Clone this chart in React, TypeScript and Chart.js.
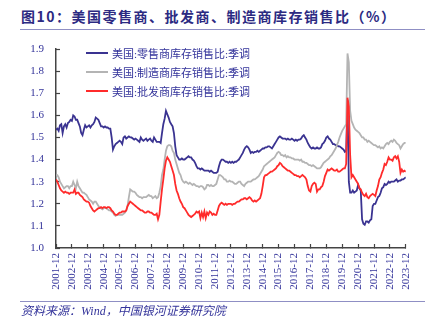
import React, { useEffect, useRef } from "react";
import { Chart, registerables } from "chart.js";

Chart.register(...registerables);

// Monthly data, first point 2001-12, last point 2023-12
const START_YEAR = 2001;
const START_MONTH = 12;

const SERIES_NAMES = [
  "美国:零售商库存销售比:季调",
  "美国:制造商库存销售比:季调",
  "美国:批发商库存销售比:季调",
];

const retail = [
  1.535,
  1.54, 1.53, 1.555, 1.56, 1.52, 1.55, 1.56, 1.545, 1.565, 1.57, 1.58, 1.575,
  1.60, 1.595, 1.58, 1.58, 1.565, 1.55, 1.52, 1.51, 1.535, 1.555, 1.545, 1.55,
  1.555, 1.545, 1.555, 1.56, 1.57, 1.59, 1.585, 1.58, 1.565, 1.55, 1.55, 1.545,
  1.55, 1.545, 1.545, 1.54, 1.54, 1.50, 1.445, 1.46, 1.47, 1.475, 1.48, 1.485,
  1.48, 1.47, 1.50, 1.505, 1.495, 1.50, 1.505, 1.50, 1.50, 1.495, 1.49, 1.495,
  1.49, 1.485, 1.48, 1.50, 1.49, 1.485, 1.49, 1.495, 1.485, 1.49, 1.495, 1.485,
  1.48, 1.50, 1.49, 1.48, 1.48, 1.48, 1.475, 1.52, 1.56, 1.585, 1.62, 1.605,
  1.59, 1.57, 1.56, 1.55, 1.52, 1.46, 1.42, 1.41, 1.40, 1.40, 1.405, 1.40,
  1.40, 1.405, 1.41, 1.415, 1.41, 1.41, 1.40, 1.395, 1.385, 1.37, 1.36, 1.36,
  1.355, 1.36, 1.355, 1.35, 1.35, 1.35, 1.35, 1.345, 1.35, 1.345, 1.34, 1.34,
  1.34, 1.345, 1.37, 1.39, 1.40, 1.40, 1.395, 1.39, 1.39, 1.385, 1.39, 1.385,
  1.39, 1.385, 1.39, 1.39, 1.395, 1.40, 1.41, 1.42, 1.43, 1.445, 1.455, 1.46,
  1.455, 1.445, 1.43, 1.435, 1.43, 1.435, 1.435, 1.44, 1.435, 1.44, 1.445, 1.45,
  1.45, 1.455, 1.455, 1.46, 1.46, 1.455, 1.45, 1.46, 1.47, 1.48, 1.49, 1.50,
  1.505, 1.50, 1.495, 1.495, 1.495, 1.49, 1.495, 1.49, 1.49, 1.495, 1.49, 1.485,
  1.49, 1.485, 1.49, 1.49, 1.495, 1.505, 1.51, 1.50, 1.49, 1.475, 1.465, 1.455,
  1.45, 1.455, 1.45, 1.45, 1.455, 1.45, 1.45, 1.455, 1.47, 1.475, 1.485, 1.50,
  1.505, 1.495, 1.49, 1.48, 1.47, 1.47, 1.465, 1.465, 1.46, 1.46, 1.455, 1.45,
  1.445, 1.435, 1.44, 1.67, 1.30, 1.25, 1.25, 1.26, 1.25, 1.255, 1.26, 1.285,
  1.27, 1.26, 1.13, 1.11, 1.105, 1.12, 1.12, 1.115, 1.125, 1.13, 1.19, 1.20,
  1.20, 1.215, 1.23, 1.235, 1.25, 1.27, 1.275, 1.29, 1.285, 1.29, 1.30, 1.295,
  1.30, 1.30, 1.30, 1.305, 1.31, 1.30, 1.305, 1.305, 1.31, 1.31, 1.315, 1.32,
];

const manufacturing = [
  1.33,
  1.33, 1.32, 1.30, 1.29, 1.28, 1.27, 1.275, 1.28, 1.28, 1.27, 1.28, 1.28,
  1.30, 1.285, 1.27, 1.30, 1.28, 1.27, 1.26, 1.25, 1.25, 1.245, 1.24, 1.23,
  1.22, 1.215, 1.21, 1.20, 1.21, 1.21, 1.20, 1.19, 1.185, 1.18, 1.175, 1.18,
  1.18, 1.18, 1.175, 1.17, 1.17, 1.165, 1.16, 1.15, 1.145, 1.15, 1.15, 1.15,
  1.15, 1.15, 1.155, 1.16, 1.17, 1.19, 1.23, 1.265, 1.26, 1.255, 1.255, 1.25,
  1.24, 1.235, 1.23, 1.23, 1.225, 1.23, 1.23, 1.23, 1.235, 1.24, 1.235, 1.235,
  1.225, 1.23, 1.235, 1.225, 1.23, 1.25, 1.28, 1.33, 1.355, 1.40, 1.44, 1.46,
  1.465, 1.465, 1.46, 1.44, 1.43, 1.40, 1.38, 1.36, 1.34, 1.33, 1.31, 1.30,
  1.295, 1.30, 1.295, 1.29, 1.295, 1.29, 1.285, 1.29, 1.285, 1.28, 1.28, 1.275,
  1.28, 1.28, 1.275, 1.265, 1.27, 1.285, 1.285, 1.28, 1.285, 1.28, 1.28, 1.285,
  1.29, 1.31, 1.33, 1.33, 1.325, 1.32, 1.31, 1.31, 1.30, 1.30, 1.305, 1.30,
  1.30, 1.295, 1.29, 1.29, 1.295, 1.30, 1.30, 1.29, 1.285, 1.28, 1.29, 1.295,
  1.30, 1.30, 1.30, 1.305, 1.31, 1.31, 1.315, 1.32, 1.325, 1.335, 1.345, 1.355,
  1.37, 1.375, 1.38, 1.385, 1.39, 1.395, 1.40, 1.405, 1.41, 1.42, 1.43, 1.435,
  1.43, 1.42, 1.42, 1.415, 1.42, 1.41, 1.415, 1.41, 1.41, 1.405, 1.405, 1.40,
  1.40, 1.40, 1.40, 1.395, 1.40, 1.39, 1.39, 1.385, 1.385, 1.38, 1.375, 1.375,
  1.37, 1.375, 1.37, 1.365, 1.36, 1.36, 1.36, 1.365, 1.375, 1.385, 1.39, 1.395,
  1.40, 1.405, 1.415, 1.42, 1.43, 1.44, 1.45, 1.465, 1.48, 1.50, 1.515, 1.53,
  1.54, 1.55, 1.56, 1.88, 1.84, 1.62, 1.575, 1.56, 1.545, 1.535, 1.53, 1.525,
  1.52, 1.51, 1.50, 1.50, 1.49, 1.49, 1.48, 1.485, 1.48, 1.475, 1.47, 1.465,
  1.465, 1.46, 1.455, 1.46, 1.45, 1.455, 1.45, 1.46, 1.47, 1.475, 1.47, 1.48,
  1.485, 1.48, 1.49, 1.485, 1.475, 1.47, 1.465, 1.45, 1.46, 1.47, 1.475, 1.475,
];

const wholesale = [
  1.31,
  1.30, 1.285, 1.27, 1.26, 1.255, 1.25, 1.255, 1.25, 1.25, 1.245, 1.25, 1.25,
  1.25, 1.265, 1.245, 1.25, 1.25, 1.24, 1.235, 1.23, 1.22, 1.215, 1.21, 1.21,
  1.205, 1.19, 1.18, 1.17, 1.165, 1.17, 1.175, 1.18, 1.18, 1.185, 1.18, 1.185,
  1.185, 1.18, 1.185, 1.185, 1.18, 1.17, 1.165, 1.155, 1.15, 1.15, 1.155, 1.16,
  1.16, 1.165, 1.165, 1.165, 1.17, 1.19, 1.20, 1.21, 1.205, 1.20, 1.195, 1.19,
  1.185, 1.18, 1.175, 1.17, 1.17, 1.165, 1.16, 1.16, 1.165, 1.165, 1.16, 1.16,
  1.155, 1.15, 1.15, 1.155, 1.13, 1.15, 1.21, 1.265, 1.31, 1.36, 1.395, 1.41,
  1.40, 1.39, 1.37, 1.35, 1.33, 1.29, 1.26, 1.245, 1.225, 1.21, 1.20, 1.185,
  1.18, 1.17, 1.16, 1.15, 1.145, 1.14, 1.145, 1.15, 1.155, 1.165, 1.16, 1.165,
  1.135, 1.16, 1.14, 1.165, 1.135, 1.16, 1.15, 1.165, 1.16, 1.15, 1.155, 1.15,
  1.15, 1.17, 1.19, 1.20, 1.205, 1.20, 1.195, 1.20, 1.195, 1.20, 1.20, 1.20,
  1.195, 1.20, 1.20, 1.205, 1.21, 1.21, 1.215, 1.22, 1.22, 1.225, 1.225, 1.22,
  1.225, 1.23, 1.225, 1.215, 1.21, 1.215, 1.21, 1.215, 1.22, 1.225, 1.245, 1.28,
  1.32, 1.33, 1.33, 1.335, 1.34, 1.345, 1.345, 1.35, 1.355, 1.36, 1.37, 1.375,
  1.385, 1.38, 1.37, 1.365, 1.36, 1.355, 1.35, 1.35, 1.345, 1.34, 1.335, 1.33,
  1.33, 1.325, 1.325, 1.32, 1.325, 1.33, 1.325, 1.32, 1.31, 1.28, 1.26, 1.255,
  1.28, 1.29, 1.295, 1.29, 1.255, 1.265, 1.265, 1.275, 1.28, 1.30, 1.325, 1.34,
  1.355, 1.35, 1.355, 1.36, 1.355, 1.35, 1.35, 1.355, 1.345, 1.345, 1.35, 1.355,
  1.36, 1.36, 1.38, 1.68, 1.64, 1.42, 1.32, 1.33, 1.32, 1.31, 1.30, 1.29,
  1.27, 1.265, 1.25, 1.24, 1.235, 1.245, 1.23, 1.225, 1.235, 1.24, 1.245, 1.24,
  1.235, 1.26, 1.28, 1.31, 1.32, 1.34, 1.355, 1.38, 1.375, 1.39, 1.41, 1.40,
  1.40, 1.395, 1.41, 1.415, 1.405, 1.415, 1.39, 1.34, 1.355, 1.345, 1.35, 1.345,
];

const Y_MIN = 1.0;
const Y_MAX = 1.9;
const Y_STEP = 0.1;

const categories: string[] = retail.map((_, i) => {
  const t = START_YEAR * 12 + (START_MONTH - 1) + i;
  const y = Math.floor(t / 12);
  const m = (t % 12) + 1;
  return `${y}-${String(m).padStart(2, "0")}`;
});

const COLORS = ["#3A3391", "#B4B4B4", "#FF2B2B"];
const TEXT_BLUE = "#33339A";
const TITLE_COLOR = "#2C2A82";
const SERIF = '"Liberation Serif", "Noto Sans CJK SC", serif';

export default function App() {
  const ref = useRef<HTMLCanvasElement | null>(null);

  useEffect(() => {
    document.body.style.margin = "0";
    const canvas = ref.current;
    if (!canvas) return;
    const series = [retail, manufacturing, wholesale];
    const orders = [3, 2, 1];
    const chart = new Chart(canvas, {
      type: "line",
      data: {
        datasets: series.map((arr, k) => ({
          label: SERIES_NAMES[k],
          data: arr.map((v, i) => ({ x: i, y: v })),
          borderColor: COLORS[k],
          backgroundColor: COLORS[k],
          borderWidth: 1.8,
          pointRadius: 0,
          tension: 0,
          order: orders[k],
        })),
      },
      options: {
        animation: false,
        responsive: false,
        layout: { padding: { left: 0, right: 20, top: 49, bottom: 31 } },
        plugins: {
          legend: { display: false },
          tooltip: { enabled: false },
          title: { display: false },
        },
        scales: {
          x: {
            type: "linear",
            min: 0,
            max: categories.length - 1,
            afterFit: (s: any) => {
              s.height = 45;
            },
            border: { display: true, color: "#444", width: 1.5 },
            grid: {
              drawOnChartArea: false,
              drawTicks: true,
              tickLength: -4,
              tickColor: "#444",
              tickWidth: 1.2,
            },
            ticks: {
              stepSize: 12,
              autoSkip: false,
              maxRotation: 90,
              minRotation: 90,
              padding: 9,
              color: TEXT_BLUE,
              font: { family: SERIF, size: 11 },
              callback: (v: any) => categories[Math.round(Number(v))] ?? "",
            },
          },
          y: {
            min: Y_MIN,
            max: Y_MAX,
            afterFit: (s: any) => {
              s.width = 56;
            },
            border: { display: true, color: "#444", width: 1.5 },
            grid: {
              drawOnChartArea: false,
              drawTicks: true,
              tickLength: -4,
              tickColor: "#444",
              tickWidth: 1.2,
            },
            ticks: {
              stepSize: Y_STEP,
              padding: 16,
              color: TEXT_BLUE,
              font: { family: SERIF, size: 11 },
              callback: (v: any) => Number(v).toFixed(1),
            },
          },
        },
      },
    });
    return () => chart.destroy();
  }, []);

  return (
    <div
      style={{
        position: "fixed",
        left: 0,
        top: 0,
        width: 428,
        height: 324,
        background: "#fff",
        overflow: "hidden",
      }}
    >
      <div
        style={{
          position: "absolute",
          left: 21,
          top: 6,
          font: 'bold 14px "Noto Sans CJK SC", sans-serif',
          letterSpacing: "1.5px",
          color: TITLE_COLOR,
          whiteSpace: "nowrap",
          lineHeight: "20px",
        }}
      >
        图10：美国零售商、批发商、制造商库存销售比（%）
      </div>
      <div
        style={{
          position: "absolute",
          left: 20,
          top: 29,
          width: 405,
          height: 1,
          background: "#8F8FC4",
        }}
      />
      <canvas
        ref={ref}
        width={428}
        height={324}
        style={{ position: "absolute", left: 0, top: 0, width: 428, height: 324 }}
      />
      <div style={{ position: "absolute", left: 86, top: 43 }}>
        {SERIES_NAMES.map((name, k) => (
          <div
            key={name}
            style={{
              display: "flex",
              alignItems: "center",
              height: 19,
              whiteSpace: "nowrap",
            }}
          >
            <span
              style={{
                display: "inline-block",
                width: 22,
                height: 2,
                background: COLORS[k],
                marginRight: 4,
              }}
            />
            <span style={{ font: `11px ${SERIF}`, color: TEXT_BLUE }}>{name}</span>
          </div>
        ))}
      </div>
      <div
        style={{
          position: "absolute",
          left: 20,
          top: 301,
          width: 405,
          height: 1,
          background: "#8F8FC4",
        }}
      />
      <div
        style={{
          position: "absolute",
          left: 21,
          top: 303,
          font: `italic 12px ${SERIF}`,
          color: TEXT_BLUE,
          whiteSpace: "nowrap",
          lineHeight: "16px",
        }}
      >
        资料来源：Wind，中国银河证券研究院
      </div>
    </div>
  );
}
